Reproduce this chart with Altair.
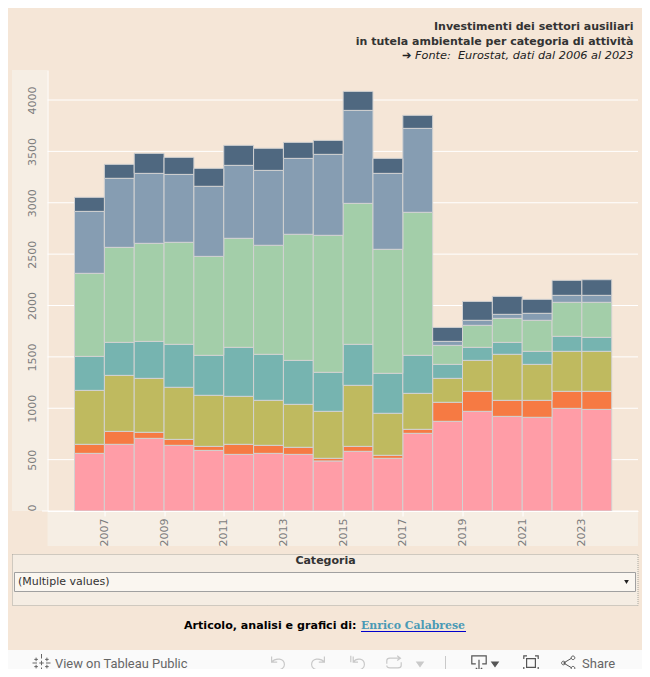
import altair as alt
import pandas as pd

years = list(range(2006, 2024))
categories = ["Rosa", "Arancio", "Oliva", "Teal", "Verde", "Azzurro", "Blu"]
pink = [561, 649, 707, 639, 590, 551, 561, 551, 487, 581, 513, 756, 873, 970, 921, 912, 999, 989]
orange = [88, 126, 59, 58, 39, 98, 78, 69, 26, 48, 29, 39, 185, 195, 156, 165, 166, 176]
olive = [525, 545, 525, 507, 497, 467, 438, 418, 457, 594, 409, 350, 233, 301, 448, 350, 389, 389]
teal = [331, 321, 360, 418, 389, 477, 448, 428, 380, 399, 389, 370, 136, 127, 116, 127, 146, 136]
green = [808, 925, 954, 993, 963, 1061, 1061, 1227, 1333, 1372, 1207, 1392, 185, 214, 234, 302, 331, 341]
bluegray = [603, 672, 681, 661, 682, 710, 729, 739, 788, 905, 739, 817, 39, 49, 39, 68, 68, 68]
dark = [137, 136, 195, 166, 175, 195, 215, 156, 136, 185, 146, 127, 136, 184, 175, 136, 146, 152]
series = [pink, orange, olive, teal, green, bluegray, dark]
colors = ["#ff9da7", "#f67a43", "#bfba5f", "#76b4b0", "#a3cea9", "#869db2", "#4f6880"]
y_ticks = [0, 500, 1000, 1500, 2000, 2500, 3000, 3500, 4000]
x_ticks = [2007, 2009, 2011, 2013, 2015, 2017, 2019, 2021, 2023]

BG = "#f5e6d7"
BAND = "#f6eee4"
OX, OY = 47.5, 70.0
PW, PH = 590.5, 441.0

rows = []
for i, (cat, vals) in enumerate(zip(categories, series)):
    for yr, v in zip(years, vals):
        rows.append({"start": yr, "end": yr + 1, "cat": cat, "val": v, "ord": i})
df = pd.DataFrame(rows)
y_scale = alt.Scale(domain=[0, 4292], nice=False)
y_axis = alt.Axis(values=y_ticks, format="d", title=None, labelAngle=270, grid=False,
                  labelFont="DejaVu Sans", labelFontSize=11,
                  labelColor="#7d7d7d", tickSize=0, domainColor="white", labelPadding=10,
                  labelAlign={"expr": "datum.value === 0 ? 'left' : 'center'"},
                  labelBaseline="bottom", zindex=1)


def rect(x0, y0, x1, y1, **kw):
    return alt.Chart(pd.DataFrame([{"a": 1}])).mark_rect(**kw).encode(
        x=alt.value(x0 - OX), x2=alt.value(x1 - OX),
        y=alt.value(y0 - OY), y2=alt.value(y1 - OY))


def label(txt, x, y, **kw):
    kw.setdefault("font", "DejaVu Sans")
    kw.setdefault("baseline", "middle")
    return alt.Chart(pd.DataFrame([{"a": 1}])).mark_text(text=txt, **kw).encode(
        x=alt.value(x - OX), y=alt.value(y - OY))


def icon(path, x, y, size=256, color="#c9c9c9", width=1.2, filled=False):
    return alt.Chart(pd.DataFrame([{"a": 1}])).mark_point(
        shape=path, size=size, stroke=color, strokeWidth=width,
        filled=filled, fill=color if filled else "transparent", opacity=1
    ).encode(x=alt.value(x - OX), y=alt.value(y - OY))


bands = [
    rect(12, 70, 47.5, 511, fill=BAND),
    rect(47.5, 511, 638, 546, fill=BAND),
    rect(42, 510.5, 47.5, 511.5, fill="white"),
]

grid = alt.Chart(pd.DataFrame({"tick": y_ticks})).mark_rule(color="white", strokeWidth=1).encode(
    y=alt.Y("tick:Q", scale=y_scale, axis=y_axis)
)

bars = alt.Chart(df).transform_stack(
    stack="val", as_=["y0", "y1"], groupby=["start"], sort=[alt.SortField("ord", order="ascending")]
).mark_rect(stroke="#d2d2d2", strokeWidth=1).encode(
    x=alt.X("start:Q", scale=alt.Scale(domain=[2005.095, 2024.88], nice=False, zero=False),
            axis=alt.Axis(values=x_ticks, format="d", title=None, labelAngle=270, grid=False,
                          labelFont="DejaVu Sans", labelFontSize=11, labelColor="#7d7d7d",
                          tickColor="white", tickSize=5, domainColor="white", labelPadding=2,
                          labelBaseline="middle", labelAlign="right", zindex=1)),
    x2="end:Q",
    y=alt.Y("y0:Q", scale=y_scale, axis=y_axis),
    y2="y1:Q",
    color=alt.Color("cat:N", scale=alt.Scale(domain=categories, range=colors), legend=None),
)

filter_box = [
    rect(12.5, 554.5, 638, 605.5, fill="#f5ede3", stroke="#a8a8a0", strokeWidth=1, strokeDash=[1, 1]),
    label("Categoria", 325.5, 561, fontWeight="bold", fontSize=11, color="#333333", align="center"),
    rect(14.5, 572.5, 635.5, 591.5, fill="#faf6f0", stroke="#a0a0a0", strokeWidth=1),
    label("(Multiple values)", 18, 581.5, fontSize=11, color="#333333", align="left"),
    alt.Chart(pd.DataFrame([{"a": 1}])).mark_point(shape="triangle-down", filled=True, size=22,
                                                  color="#222222", opacity=1).encode(
        x=alt.value(626.5 - OX), y=alt.value(582 - OY)),
]

footer = [
    label("Articolo, analisi e grafici di:", 184, 625.5, fontWeight="bold", fontSize=11.1,
          color="#000000", align="left"),
    label("Enrico Calabrese", 361, 625.5, font="DejaVu Serif", fontWeight="bold", fontSize=10.9,
          color="#4a9ab5", align="left"),
    rect(361, 631, 466, 632, fill="#0000cc"),
]

toolbar = [
    rect(0, 650, 642, 669, fill="#fafafa"),
    icon("M0,-1V-0.5M0,0.5V1M-1,0H-0.5M0.5,0H1M-0.6,-0.6V-0.2M-0.8,-0.4H-0.4M0.6,-0.6V-0.2M0.4,-0.4H0.8M-0.6,0.2V0.6M-0.8,0.4H-0.4M0.6,0.2V0.6M0.4,0.4H0.8M0,-0.25V0.25M-0.25,0H0.25",
         41.5, 663, size=324, color="#666666", width=1),
    label("View on Tableau Public", 55, 663.5, font="Roboto", fontSize=12.9, color="#666666", align="left"),
    icon("M-0.8,-0.8V-0.1H-0.1M-0.8,-0.1C-0.3,-0.7 0.8,-0.6 0.8,0.2C0.8,0.7 0.3,0.9 -0.4,0.9", 278, 663),
    icon("M0.8,-0.8V-0.1H0.1M0.8,-0.1C0.3,-0.7 -0.8,-0.6 -0.8,0.2C-0.8,0.7 -0.3,0.9 0.4,0.9", 318, 663),
    icon("M-0.9,-0.9V-0.1M-0.6,-0.8V-0.1H0M-0.6,-0.1C-0.2,-0.7 0.8,-0.6 0.8,0.2C0.8,0.7 0.3,0.9 -0.3,0.9", 358, 663),
    icon("M-0.9,0.1V-0.3Q-0.9,-0.6 -0.5,-0.6H0.8M0.4,-0.9L0.8,-0.6L0.4,-0.3M0.9,-0.1V0.3Q0.9,0.6 0.5,0.6H-0.5Q-0.9,0.6 -0.9,0.3", 394, 663),
    icon("M-1,-0.6H1L0,0.8Z", 420, 664, size=40, filled=True),
    rect(445, 656, 446, 669, fill="#c9c9c9"),
    icon("M-0.4,0.1H-0.9V-0.9H0.9V0.1H0.4M0,-0.4V1M-0.4,0.6L0,1L0.4,0.6", 479, 663, color="#555555"),
    icon("M-1,-0.6H1L0,0.8Z", 495, 664, size=40, color="#555555", filled=True),
    icon("M-0.9,-0.5V-0.9H-0.5M0.5,-0.9H0.9V-0.5M0.9,0.5V0.9H0.5M-0.5,0.9H-0.9V0.5M-0.55,-0.55H0.55V0.55H-0.55Z", 531, 663, color="#555555"),
    icon("M-0.55,0L0.45,-0.6M-0.55,0L0.45,0.6M-0.35,0A0.22,0.22 0 1 1 -0.8,0A0.22,0.22 0 1 1 -0.35,0M0.85,-0.65A0.22,0.22 0 1 1 0.4,-0.65A0.22,0.22 0 1 1 0.85,-0.65M0.85,0.65A0.22,0.22 0 1 1 0.4,0.65A0.22,0.22 0 1 1 0.85,0.65",
         568, 663, color="#555555", width=1),
    label("Share", 582, 663.5, font="Roboto", fontSize=13, color="#666666", align="left"),
]

chart = alt.layer(*bands, grid, bars, *filter_box, *footer, *toolbar).properties(
    width=PW,
    height=PH,
    background=BG,
    autosize=alt.AutoSizeParams(type="none"),
    padding={"left": 39.5, "top": 62, "right": 4, "bottom": 158},
    title=alt.TitleParams(
        text=["Investimenti dei settori ausiliari", "in tutela ambientale per categoria di attività\u00a0"],
        subtitle="➔ Fonte:\u00a0\u00a0Eurostat, dati dal 2006 al 2023",
        anchor="end", frame="group", font="DejaVu Sans", fontSize=11, fontWeight="bold", color="#333333",
        lineHeight=15, dx=-4.5, offset=9, subtitleFont="DejaVu Sans", subtitleFontSize=11.3,
        subtitleFontStyle="italic", subtitleColor="#222222", subtitlePadding=3, subtitleLineHeight=15,
    ),
).configure_view(stroke=None, fill=None)

chart.save("out.html", embed_options={"renderer": "svg", "actions": False})
